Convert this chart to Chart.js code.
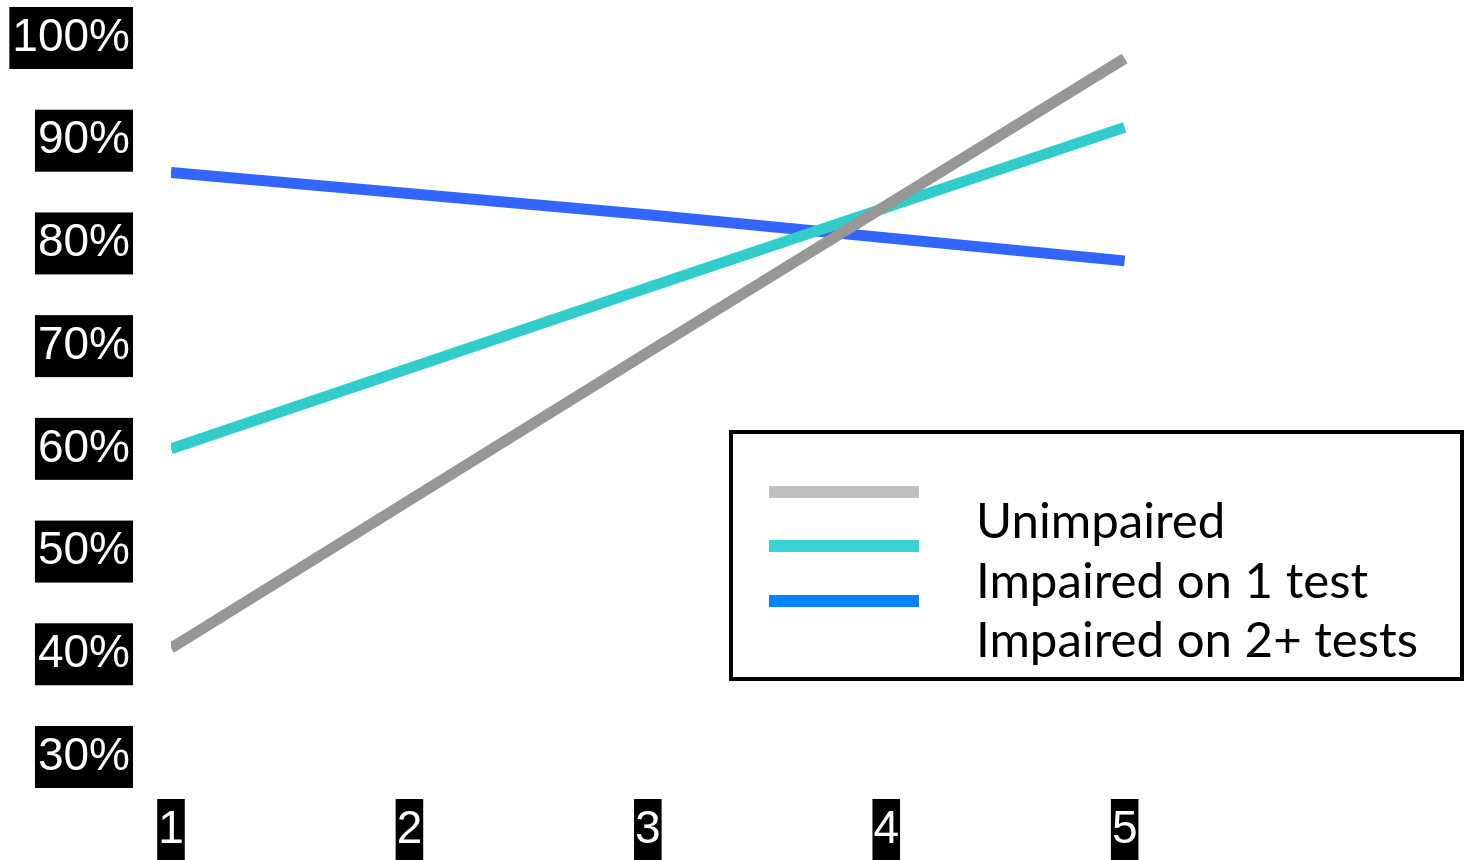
<!DOCTYPE html>
<html>
<head>
<meta charset="utf-8">
<style>
  html, body { margin: 0; padding: 0; background: #fff; overflow: hidden; }
  #wrap { width: 1468px; height: 860px; position: relative; }
</style>
<script src="https://cdn.jsdelivr.net/npm/chart.js@4/dist/chart.umd.min.js"></script>
</head>
<body>
<div id="wrap"><canvas id="chart" width="1468" height="860"></canvas></div>
<script>
// Time points and percentage series
const timePoints = [1, 3, 5];
const unimpaired = [40.6, 69.4, 98.0];
const impairedOne = [60.0, 75.7, 91.3];
const impairedTwoPlus = [86.9, 82.8, 78.3];

const seriesLabels = ['Unimpaired', 'Impaired on 1 test', 'Impaired on 2+ tests'];
const lineColors = ['#979797', '#33CCCC', '#3366FF'];
const legendColors = ['#BFBFBF', '#3AD4D4', '#0A80FF'];
const xTickValues = [1, 2, 3, 4, 5];

const toPoints = (vals) => timePoints.map((x, i) => ({ x, y: vals[i] }));

// Boxed legend drawn inside the plot area
const boxLegend = {
  id: 'boxLegend',
  afterDraw(chart) {
    const ctx = chart.ctx;
    ctx.save();
    ctx.strokeStyle = '#000';
    ctx.lineWidth = 4;
    ctx.strokeRect(731, 432, 731, 247);

    const swatchY = [492, 546, 601];
    chart.data.datasets.forEach((ds, i) => {
      ctx.fillStyle = legendColors[i];
      ctx.fillRect(769, swatchY[i] - 6, 150, 12);
    });

    const baseSize = 44;
    ctx.font = baseSize + 'px Lato';
    const w = ctx.measureText(seriesLabels[2]).width;
    const size = baseSize * 442 / w;
    ctx.font = size + 'px Lato';
    ctx.fillStyle = '#000';
    ctx.textAlign = 'left';
    ctx.textBaseline = 'alphabetic';
    const baselines = [538, 598, 657];
    chart.data.datasets.forEach((ds, i) => {
      ctx.fillText(ds.label, 976, baselines[i]);
    });
    ctx.restore();
  }
};

const tickFont = { family: '"Liberation Sans", Arial, sans-serif', size: 46, lineHeight: 1.13 };

new Chart(document.getElementById('chart'), {
  type: 'line',
  data: {
    datasets: [
      { label: seriesLabels[0], data: toPoints(unimpaired), borderColor: lineColors[0], borderWidth: 11 },
      { label: seriesLabels[1], data: toPoints(impairedOne), borderColor: lineColors[1], borderWidth: 11 },
      { label: seriesLabels[2], data: toPoints(impairedTwoPlus), borderColor: lineColors[2], borderWidth: 11 }
    ]
  },
  options: {
    responsive: false,
    animation: false,
    layout: { padding: { top: 38, left: 0, right: 0, bottom: 0 } },
    elements: { point: { radius: 0 }, line: { tension: 0, borderCapStyle: 'butt' } },
    plugins: { legend: { display: false }, tooltip: { enabled: false } },
    scales: {
      x: {
        type: 'linear',
        min: 1,
        max: 6.44,
        grid: { display: false, drawTicks: false },
        border: { display: false },
        afterFit: (s) => { s.height = 103; s.paddingLeft = 0; s.paddingRight = 0; },
        afterBuildTicks: (s) => { s.ticks = xTickValues.map(v => ({ value: v })); },
        ticks: {
          color: '#fff',
          font: tickFont,
          padding: 47,
          showLabelBackdrop: true,
          backdropColor: '#000',
          backdropPadding: { top: 5, bottom: 5, left: 1, right: 1 },
          maxRotation: 0,
          autoSkip: false,
          callback: (v) => String(v)
        }
      },
      y: {
        min: 30,
        max: 100,
        grid: { display: false, drawTicks: false },
        border: { display: false },
        afterFit: (s) => { s.width = 171; s.paddingTop = 0; s.paddingBottom = 0; },
        ticks: {
          stepSize: 10,
          color: '#fff',
          font: tickFont,
          padding: 41,
          showLabelBackdrop: true,
          backdropColor: '#000',
          backdropPadding: { top: 5, bottom: 5, left: 3, right: 3 },
          callback: (v) => v + '%'
        }
      }
    }
  },
  plugins: [boxLegend]
});
</script>
</body>
</html>
